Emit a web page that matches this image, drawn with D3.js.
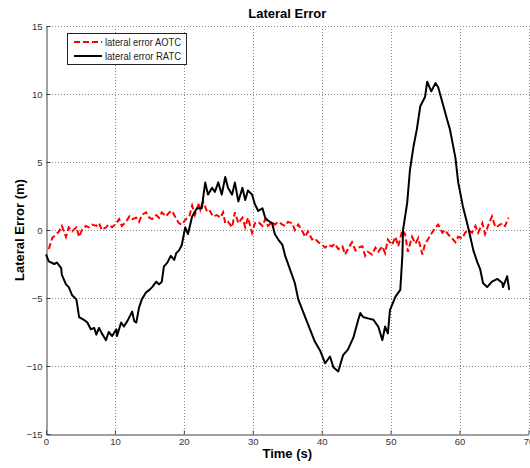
<!DOCTYPE html>
<html>
<head>
<meta charset="utf-8">
<script src="https://cdn.jsdelivr.net/npm/d3@7"></script>
<style>
  body { margin: 0; background: #fff; }
  text { font-family: "Liberation Sans", Arial, sans-serif; }
</style>
</head>
<body>
<div id="chart"></div>
<script>
// Data
const xTicks = [0, 10, 20, 30, 40, 50, 60, 70];
const yTicks = [-15, -10, -5, 0, 5, 10, 15];
const seriesNames = ["lateral error AOTC", "lateral error RATC"];

// lateral error RATC (black)
const ratcTime = [0, 0.4, 1.2, 1.6, 2.2, 2.3, 2.9, 3.3, 3.8, 4.4,
  4.5, 4.8, 5.5, 6.0, 6.5, 7.0, 7.3, 7.7, 8.1, 8.7,
  9.1, 9.6, 10.2, 10.3, 10.9, 11.3, 11.8, 12.5, 12.8, 13.1,
  13.5, 13.9, 14.5, 15.0, 15.4, 16.0, 16.4, 16.8, 17.1, 17.6,
  18.1, 18.6, 18.9, 19.3, 19.7, 20.2, 20.6, 21.2, 21.9, 22.6,
  23.1, 23.5, 24.1, 24.5, 25.0, 25.5, 26.0, 26.4, 27.0, 27.4,
  27.9, 28.5, 28.9, 29.3, 29.9, 30.3, 30.8, 31.4, 31.8, 32.2,
  32.8, 33.2, 33.7, 34.3,
  34.7, 35.4, 36.1, 36.6, 37.6, 38.3, 39.0, 39.8, 40.5, 41.2,
  41.7, 42.4, 43.1, 43.8, 44.6, 45.3, 45.6, 46.0, 46.7, 47.5,
  48.2, 48.8, 49.2, 49.6, 49.9, 50.7, 51.4, 51.7, 51.8, 52.4,
  52.8, 53.3, 53.8, 54.3, 55.0, 55.3, 55.9, 56.5, 56.9, 57.5,
  58.2, 58.6, 59.4, 59.8, 60.5, 61.2, 62.0, 62.6, 63.0, 63.4,
  64.0, 64.7, 65.5, 66.2, 66.3, 66.9, 67.2];
const ratcErr = [-1.8, -2.3, -2.5, -2.4, -2.8, -3.3, -4.0, -4.2, -4.8, -5.1,
  -5.4, -6.4, -6.6, -6.8, -7.3, -7.2, -7.7, -7.2, -7.6, -8.1,
  -7.5, -7.8, -7.3, -7.8, -6.8, -7.1, -6.7, -6.0, -6.7, -6.8,
  -5.7, -5.1, -4.6, -4.4, -4.2, -3.8, -4.0, -3.8, -2.7, -2.4,
  -1.9, -2.2, -1.7, -1.5, -1.1, 0.2, -0.3, 1.0, 1.6, 1.6,
  3.5, 2.6, 3.1, 2.8, 3.5, 2.6, 3.9, 3.1, 2.6, 3.5,
  2.1, 3.1, 2.2, 2.9, 2.6, 1.9, 1.4, 1.6, 0.9, 0.7,
  0.5, -0.3, -0.7, -1.1,
  -1.9, -2.9, -3.9, -5.1, -6.4, -7.3, -8.2, -8.9, -9.8, -9.3,
  -10.1, -10.4, -9.2, -8.8, -7.9, -6.6, -6.1, -6.4, -6.5, -6.6,
  -7.1, -8.1, -7.1, -7.6, -5.9, -4.9, -4.4, -1.9, 0, 2.0,
  4.4, 6.1, 7.4, 9.1, 9.8, 10.9, 10.2, 10.8, 10.5, 9.4,
  8.1, 7.4, 5.3, 3.5, 1.7, 0.3, -1.5, -2.4, -2.9, -3.9,
  -4.2, -3.8, -3.6, -3.9, -4.2, -3.4, -4.4];

// lateral error AOTC (red dashed)
const aotcTime = [0.4, 0.9, 1.5, 1.9, 2.3, 2.9, 3.3, 3.8, 4.4, 4.8,
  5.2, 5.8, 6.2, 6.7, 7.3, 7.7, 8.1, 8.7, 9.1, 9.6,
  10.2, 10.6, 11.0, 11.6, 12.1, 12.5, 13.1, 13.5, 13.9, 14.5,
  15.0, 15.4, 16.0, 16.4, 16.8, 17.4, 17.9, 18.3, 18.9, 19.3,
  19.7, 20.3, 20.8, 21.2, 21.6, 22.2, 22.4, 22.8, 23.4, 23.8,
  24.2, 24.8, 25.3, 25.7, 26.0, 26.4, 27.0, 27.4, 27.9, 28.5,
  28.9, 29.3, 29.9, 30.3, 30.8, 31.4, 31.8, 32.2, 32.8, 33.2,
  33.7, 34.3, 34.7, 35.1, 35.7, 36.1, 36.6, 37.2, 37.6, 38.0,
  38.6, 39.0, 39.5, 40.1, 40.5, 40.9, 41.5, 41.9, 42.4, 43.0,
  43.4, 43.8, 44.4, 44.9, 45.3, 45.9, 46.3, 46.7, 47.3, 47.8,
  48.2, 48.8, 49.2, 49.6, 50.2, 50.7, 51.1, 51.7, 52.1, 52.5,
  53.1, 53.6, 54.0, 54.6, 55.0, 55.4, 56.0, 56.5, 56.9, 57.5,
  57.9, 58.3, 58.9, 59.4, 59.8, 60.4, 60.8, 61.3, 61.8, 62.3,
  62.7, 63.3, 63.7, 64.2, 64.7, 65.2, 65.6, 66.2, 66.6, 67.1];
const aotcErr = [-1.4, -0.6, -0.3, -0.1, 0.3, -0.5, 0.2, -0.1, 0.2, -0.5,
  0, 0.3, 0.2, 0.4, 0.3, 0.5, 0, 0.2, 0.4, 0.2,
  0.5, 0.8, 0.3, 0.6, 1.0, 0.8, 0.9, 0.6, 1.1, 1.3,
  0.9, 0.8, 1.1, 0.9, 1.3, 1.0, 1.3, 1.4, 0.8, 0.5,
  0.4, 0.8, 1.0, 1.8, 1.1, 2.0, 1.5, 2.1, 1.3, 1.4,
  1.0, 1.1, 0.9, 1.3, 0.5, 0.6, 0.2, 1.3, 0.5, 0.9,
  0.2, 0.9, -0.2, 0.5, 0.6, 0.3, 0.8, 0.3, 0.6, 0.4,
  0.6, 0.4, 0.3, 0.6, 0.5, 0, 0.4, -0.1, -0.5, -0.1,
  -0.7, -0.6, -0.9, -1.1, -1.3, -1.1, -1.2, -1.0, -1.4, -1.2,
  -1.8, -1.4, -0.9, -1.5, -1.3, -1.2, -1.9, -1.6, -1.8, -1.3,
  -1.6, -1.2, -1.7, -0.7, -1.1, -0.5, -1.2, 0, -0.3, -1.6,
  -0.5, -1.0, -0.6, -1.8, -1.0, -0.7, -0.2, 0.2, 0.4, -0.2,
  0, -0.3, -0.6, -0.9, -0.5, -0.6, -0.2, 0, -0.2, 0.3,
  -0.2, 0.5, -0.3, 0.4, 1.0, 0.2, 0.3, 0.5, 0.3, 0.9];

// Global const
const W = 530, H = 468;
const plot = {left: 46, right: 528.5, top: 26, bottom: 434};

let svg = d3.select("#chart")
  .append("svg")
    .attr("width", W)
    .attr("height", H);

svg.append("rect").attr("width", W).attr("height", H).attr("fill", "#fff");

let x = d3.scaleLinear().domain([0, 70]).range([plot.left, plot.right]);
let y = d3.scaleLinear().domain([-15, 15]).range([plot.bottom, plot.top]);

// Grid (dotted)
let grid = svg.append("g")
  .attr("stroke", "#8a8a8a")
  .attr("stroke-width", 1)
  .attr("stroke-dasharray", "1,2");

grid.selectAll("line.vx")
  .data(xTicks.filter(d => d > 0))
  .enter().append("line")
    .attr("x1", d => Math.round(x(d)) + 0.5)
    .attr("x2", d => Math.round(x(d)) + 0.5)
    .attr("y1", plot.top)
    .attr("y2", plot.bottom);

grid.selectAll("line.hy")
  .data(yTicks.filter(d => d > -15))
  .enter().append("line")
    .attr("x1", plot.left)
    .attr("x2", W)
    .attr("y1", d => Math.round(y(d)) + 0.5)
    .attr("y2", d => Math.round(y(d)) + 0.5);

// Axes (ticks point inward, MATLAB style)
let xAxis = svg.append("g")
  .attr("transform", "translate(0," + (plot.bottom + 0.5) + ")")
  .call(d3.axisBottom(x).tickValues(xTicks).tickSizeInner(-4).tickSizeOuter(0).tickPadding(4));

let yAxis = svg.append("g")
  .attr("transform", "translate(" + (plot.left + 0.5) + ",0)")
  .call(d3.axisLeft(y).tickValues(yTicks).tickSizeInner(-4).tickSizeOuter(0).tickPadding(4));

[xAxis, yAxis].forEach(a => {
  a.select(".domain").attr("stroke", "#404040");
  a.selectAll(".tick line").attr("stroke", "#404040");
  a.selectAll(".tick text")
    .attr("fill", "#333")
    .style("font-family", "'Liberation Sans', Arial, sans-serif")
    .style("font-size", "9.5px");
});

// Lines
let line = d3.line()
  .x(d => x(d[0]))
  .y(d => y(d[1]));

let aotc = d3.zip(aotcTime, aotcErr);
let ratc = d3.zip(ratcTime, ratcErr);

svg.append("path")
  .datum(aotc)
  .attr("fill", "none")
  .attr("stroke", "#ff0000")
  .attr("stroke-width", 2)
  .attr("stroke-dasharray", "6,3")
  .attr("d", line);

svg.append("path")
  .datum(ratc)
  .attr("fill", "none")
  .attr("stroke", "#000")
  .attr("stroke-width", 2)
  .attr("stroke-linejoin", "round")
  .attr("d", line);

// Title and labels
svg.append("text")
  .attr("x", (plot.left + plot.right) / 2)
  .attr("y", 18)
  .attr("text-anchor", "middle")
  .attr("font-weight", "bold")
  .attr("font-size", "13px")
  .text("Lateral Error");

svg.append("text")
  .attr("x", (plot.left + plot.right) / 2)
  .attr("y", 458)
  .attr("text-anchor", "middle")
  .attr("font-weight", "bold")
  .attr("font-size", "13px")
  .text("Time (s)");

svg.append("text")
  .attr("transform", "translate(24," + ((plot.top + plot.bottom) / 2) + ")rotate(-90)")
  .attr("text-anchor", "middle")
  .attr("font-weight", "bold")
  .attr("font-size", "13px")
  .text("Lateral Error (m)");

// Legend
let legend = svg.append("g");
legend.append("rect")
  .attr("x", 67.5).attr("y", 33.5)
  .attr("width", 119).attr("height", 31)
  .attr("fill", "#fff")
  .attr("stroke", "#222");

let legStyles = [{c: "#ff0000", dash: "6,3"}, {c: "#000", dash: null}];
seriesNames.forEach((name, i) => {
  let yy = 42 + i * 14;
  legend.append("line")
    .attr("x1", 74).attr("x2", 102)
    .attr("y1", yy).attr("y2", yy)
    .attr("stroke", legStyles[i].c)
    .attr("stroke-width", 2)
    .attr("stroke-dasharray", legStyles[i].dash);
  legend.append("text")
    .attr("x", 105)
    .attr("y", yy + 3.5)
    .attr("font-size", "10px")
    .attr("fill", "#222")
    .attr("textLength", 76)
    .attr("lengthAdjust", "spacingAndGlyphs")
    .text(name);
});
</script>
</body>
</html>
